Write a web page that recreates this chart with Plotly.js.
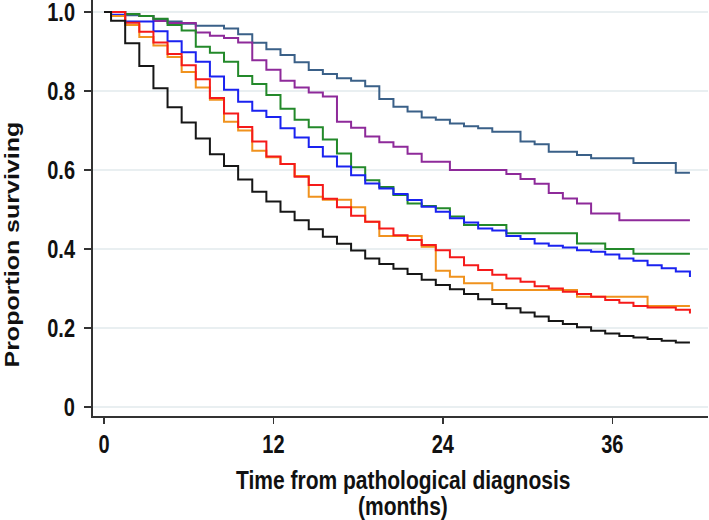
<!DOCTYPE html>
<html>
<head>
<meta charset="utf-8">
<script src="https://cdn.plot.ly/plotly-3.0.1.min.js"></script>
<style>html,body{margin:0;padding:0;background:#fff;}#chart{width:709px;height:520px;}</style>
</head>
<body>
<div id="chart"></div>
<script>
// ---- data (months, proportion surviving) ----
const steelTime = [0, 1.5, 2.5, 3.5, 4.5, 5.5, 6.5, 8.5, 9.5, 10.5, 11.5, 12.5, 13.5, 14.5, 15.5, 16.5, 17.5, 18.5, 19.5, 20.5, 21.5, 22.5, 23.5, 24.5, 25.5, 26.5, 27.5, 29.5, 30.5, 31.5, 33.5, 34.5, 37.5, 40.5, 41.5];
const steelSurv = [1.0, 0.992, 0.990, 0.981, 0.976, 0.970, 0.965, 0.958, 0.944, 0.922, 0.906, 0.891, 0.873, 0.853, 0.843, 0.832, 0.826, 0.812, 0.780, 0.760, 0.748, 0.733, 0.727, 0.718, 0.711, 0.706, 0.697, 0.672, 0.665, 0.646, 0.638, 0.630, 0.618, 0.593, 0.593];

const purpleTime = [0, 1.5, 2.5, 3.5, 4.5, 6.5, 7.5, 8.5, 9.5, 10.5, 11.5, 12.5, 13.5, 14.5, 15.5, 16.5, 17.5, 18.5, 19.5, 20.5, 21.5, 22.5, 24.5, 28.5, 29.5, 30.5, 31.5, 32.5, 33.5, 34.5, 36.5, 41.5];
const purpleSurv = [1.0, 0.995, 0.990, 0.977, 0.972, 0.948, 0.940, 0.934, 0.923, 0.878, 0.854, 0.826, 0.809, 0.796, 0.786, 0.722, 0.707, 0.685, 0.670, 0.659, 0.641, 0.621, 0.600, 0.590, 0.577, 0.565, 0.542, 0.528, 0.515, 0.490, 0.473, 0.473];

const greenTime = [0, 1.5, 2.5, 3.5, 4.5, 5.5, 6.5, 7.5, 8.5, 9.5, 10.5, 11.5, 12.5, 13.5, 14.5, 15.5, 16.5, 17.5, 18.5, 19.5, 20.5, 21.5, 22.5, 23.5, 24.5, 25.5, 28.5, 33.5, 35.5, 37.5, 41.5];
const greenSurv = [1.0, 0.995, 0.990, 0.983, 0.967, 0.953, 0.912, 0.897, 0.874, 0.838, 0.818, 0.790, 0.755, 0.727, 0.708, 0.677, 0.642, 0.607, 0.574, 0.557, 0.537, 0.515, 0.509, 0.503, 0.482, 0.461, 0.440, 0.414, 0.400, 0.388, 0.388];

const blueTime = [0, 0.5, 1.5, 3.5, 4.5, 5.5, 6.5, 7.5, 8.5, 9.5, 10.5, 11.5, 12.5, 13.5, 14.5, 15.5, 16.5, 17.5, 18.5, 19.5, 20.5, 21.5, 22.5, 23.5, 24.5, 25.5, 26.5, 27.5, 28.5, 29.5, 30.5, 31.5, 32.5, 33.5, 34.5, 35.5, 36.5, 37.5, 38.5, 39.5, 40.5, 41.5];
const blueSurv = [1.0, 0.993, 0.976, 0.951, 0.926, 0.898, 0.874, 0.837, 0.803, 0.773, 0.750, 0.734, 0.706, 0.682, 0.658, 0.634, 0.609, 0.587, 0.566, 0.553, 0.539, 0.524, 0.507, 0.494, 0.478, 0.467, 0.452, 0.447, 0.433, 0.425, 0.414, 0.408, 0.404, 0.397, 0.393, 0.386, 0.376, 0.370, 0.359, 0.351, 0.343, 0.329];

const orangeTime = [0, 0.5, 1.5, 2.5, 3.5, 4.5, 5.5, 6.5, 7.5, 8.5, 9.5, 10.5, 11.5, 12.5, 13.5, 14.5, 15.5, 17.5, 18.5, 19.5, 22.5, 23.5, 24.5, 25.5, 27.5, 33.5, 38.5, 41.5];
const orangeSurv = [1.0, 0.990, 0.967, 0.937, 0.915, 0.886, 0.848, 0.809, 0.778, 0.722, 0.700, 0.649, 0.632, 0.615, 0.585, 0.532, 0.525, 0.506, 0.469, 0.433, 0.406, 0.345, 0.330, 0.313, 0.296, 0.279, 0.256, 0.256];

const redTime = [0, 1.5, 2.5, 3.5, 4.5, 5.5, 6.5, 7.5, 8.5, 9.5, 10.5, 11.5, 12.5, 13.5, 14.5, 15.5, 16.5, 17.5, 18.5, 19.5, 20.5, 21.5, 22.5, 23.5, 24.5, 25.5, 26.5, 27.5, 28.5, 29.5, 30.5, 31.5, 32.5, 33.5, 34.5, 35.5, 36.5, 37.5, 38.5, 40.5, 41.5];
const redSurv = [1.0, 0.973, 0.950, 0.923, 0.894, 0.865, 0.830, 0.782, 0.743, 0.709, 0.672, 0.634, 0.615, 0.583, 0.562, 0.527, 0.506, 0.484, 0.469, 0.452, 0.435, 0.423, 0.410, 0.397, 0.379, 0.359, 0.347, 0.335, 0.325, 0.317, 0.306, 0.300, 0.292, 0.286, 0.279, 0.271, 0.264, 0.256, 0.252, 0.246, 0.237];

const blackTime = [0, 0.5, 1.5, 2.5, 3.5, 4.5, 5.5, 6.5, 7.5, 8.5, 9.5, 10.5, 11.5, 12.5, 13.5, 14.5, 15.5, 16.5, 17.5, 18.5, 19.5, 20.5, 21.5, 22.5, 23.5, 24.5, 25.5, 26.5, 27.5, 28.5, 29.5, 30.5, 31.5, 32.5, 33.5, 34.5, 35.5, 36.5, 37.5, 38.5, 39.5, 40.5, 41.5];
const blackSurv = [1.0, 0.978, 0.921, 0.863, 0.807, 0.759, 0.720, 0.680, 0.640, 0.610, 0.576, 0.545, 0.520, 0.494, 0.473, 0.450, 0.431, 0.413, 0.396, 0.376, 0.362, 0.350, 0.337, 0.322, 0.309, 0.298, 0.286, 0.273, 0.261, 0.250, 0.239, 0.229, 0.218, 0.210, 0.202, 0.193, 0.186, 0.180, 0.176, 0.172, 0.168, 0.163, 0.163];

const xTickVals = [0, 12, 24, 36];
const xTickText = ['0', '12', '24', '36'];
const yTickVals = [0, 0.2, 0.4, 0.6, 0.8, 1.0];
const yTickText = ['0', '0.2', '0.4', '0.6', '0.8', '1.0'];
const yTitle = 'Proportion surviving';
const xTitleLine1 = 'Time from pathological diagnosis';
const xTitleLine2 = '(months)';

const series = [
  {t: steelTime, s: steelSurv, color: '#3a6088'},
  {t: purpleTime, s: purpleSurv, color: '#8e2a9a'},
  {t: greenTime, s: greenSurv, color: '#23892a'},
  {t: blueTime, s: blueSurv, color: '#1a22f0'},
  {t: orangeTime, s: orangeSurv, color: '#f0921e'},
  {t: redTime, s: redSurv, color: '#f51a1a'},
  {t: blackTime, s: blackSurv, color: '#161616'}
];

const traces = series.map(d => ({
  x: d.t, y: d.s, type: 'scatter', mode: 'lines',
  line: {shape: 'hv', color: d.color, width: 2},
  hoverinfo: 'skip', showlegend: false
}));

const fontFam = 'Liberation Sans, Arial, sans-serif';
const txtColor = '#111111';
const layout = {
  width: 709, height: 520,
  margin: {l: 93, r: 1, t: 0, b: 104, pad: 0},
  paper_bgcolor: '#fff', plot_bgcolor: '#fff',
  showlegend: false,
  font: {family: fontFam, size: 20, color: txtColor, weight: 'bold'},
  xaxis: {
    range: [-0.78, 42.78], tickvals: xTickVals, ticktext: xTickText,
    showgrid: false, zeroline: false,
    showline: true, linecolor: '#333', linewidth: 2,
    ticks: 'outside', ticklen: 6, tickwidth: 1.5, tickcolor: '#333',
    ticklabelstandoff: 3,
    tickfont: {family: fontFam, size: 20, color: txtColor, weight: 'bold'}
  },
  yaxis: {
    range: [-0.0228, 1.0304], tickvals: yTickVals, ticktext: yTickText,
    showgrid: true, gridcolor: '#e9eff1', gridwidth: 1.5, zeroline: false,
    showline: true, linecolor: '#333', linewidth: 2,
    ticks: 'outside', ticklen: 7, tickwidth: 1.5, tickcolor: '#333',
    ticklabelstandoff: 5,
    tickfont: {family: fontFam, size: 20, color: txtColor, weight: 'bold'}
  },
  annotations: [
    {text: yTitle, textangle: -90, xref: 'paper', yref: 'paper',
     x: (12 - 93) / 615, y: 1 - 245 / 416, xanchor: 'center', yanchor: 'middle',
     showarrow: false, font: {family: fontFam, size: 20, color: txtColor, weight: 'bold'}},
    {text: xTitleLine1, xref: 'paper', yref: 'paper',
     x: (403 - 93) / 615, y: (416 - 480) / 416, xanchor: 'center', yanchor: 'middle',
     showarrow: false, font: {family: fontFam, size: 21, color: txtColor, weight: 'bold'}},
    {text: xTitleLine2, xref: 'paper', yref: 'paper',
     x: (403 - 93) / 615, y: (416 - 505) / 416, xanchor: 'center', yanchor: 'middle',
     showarrow: false, font: {family: fontFam, size: 21, color: txtColor, weight: 'bold'}}
  ]
};

// The reference's lettering is drawn taller than it is wide; stretch text vertically on screen.
function stretchText(gd, k) {
  const svg = gd.querySelector('svg.main-svg');
  const nodes = gd.querySelectorAll('g.xtick text, g.ytick text, text.annotation-text');
  nodes.forEach(el => {
    const r = el.getBoundingClientRect();
    const cy = r.top + r.height / 2;
    const P = el.parentNode.getScreenCTM();
    if (!P) return;
    const S = svg.createSVGMatrix().translate(0, cy).scaleNonUniform(1, k).translate(0, -cy);
    const tl = el.transform.baseVal.consolidate();
    const T = tl ? tl.matrix : svg.createSVGMatrix();
    const M = P.inverse().multiply(S).multiply(P).multiply(T);
    el.setAttribute('transform', `matrix(${M.a},${M.b},${M.c},${M.d},${M.e},${M.f})`);
  });
}

Plotly.newPlot('chart', traces, layout, {displayModeBar: false, staticPlot: true})
  .then(gd => stretchText(gd, 1.25));
</script>
</body>
</html>
